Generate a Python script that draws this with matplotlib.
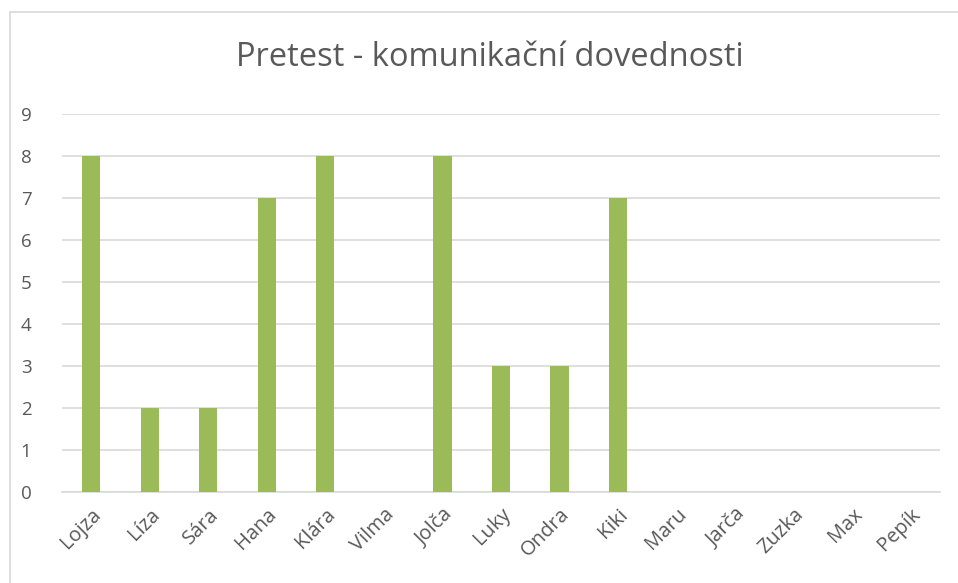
import matplotlib
matplotlib.use("Agg")
from matplotlib import pyplot as plt
from matplotlib.patches import Rectangle

names = ["Lojza", "Líza", "Sára", "Hana", "Klára", "Vilma", "Jolča", "Luky",
         "Ondra", "Kiki", "Maru", "Jarča", "Zuzka", "Max", "Pepík"]
scores = [8, 2, 2, 7, 8, 0, 8, 3, 3, 7, 0, 0, 0, 0, 0]

W, H = 958, 583
fig = plt.figure(figsize=(W / 100, H / 100), dpi=100)
plt.rcParams["font.family"] = ["Open Sans", "DejaVu Sans"]

# chart frame (only top and left edges visible in the picture)
fig.patches.append(Rectangle((10 / W, 0 - 0.05), 1.2, 1 - 12 / H + 0.05,
                             transform=fig.transFigure, fill=False,
                             edgecolor="#D9D9D9", linewidth=1.2))

ax = fig.add_axes([62 / W, 1 - 492 / H, (940 - 62) / W, (492 - 114) / H])
x = range(len(names))
ax.bar(x, scores, width=0.31, color="#9BBB59", zorder=3)

ax.set_xlim(-0.5, len(names) - 0.5)
ax.set_ylim(0, 9)
ax.set_yticks(range(10))
ax.grid(axis="y", color="#D9D9D9", linewidth=1.2, zorder=0)
for s in ["top", "right", "left"]:
    ax.spines[s].set_visible(False)
ax.spines["bottom"].set_color("#D9D9D9")
ax.spines["bottom"].set_linewidth(1.2)
ax.tick_params(axis="both", length=0, colors="#595959", labelsize=13.5)
ax.tick_params(axis="y", pad=22)
ax.set_xticks(list(x))
ax.set_xticklabels(names, rotation=45, ha="right", va="top",
                   rotation_mode="anchor", fontsize=14.5)
ax.tick_params(axis="x", pad=9)

fig.text(490 / W, 1 - 57 / H, "Pretest - komunikační dovednosti",
         ha="center", va="center", fontsize=23.5, color="#595959",
         family=["Open Sans", "DejaVu Sans"])

fig.savefig("out.png", dpi=100)
